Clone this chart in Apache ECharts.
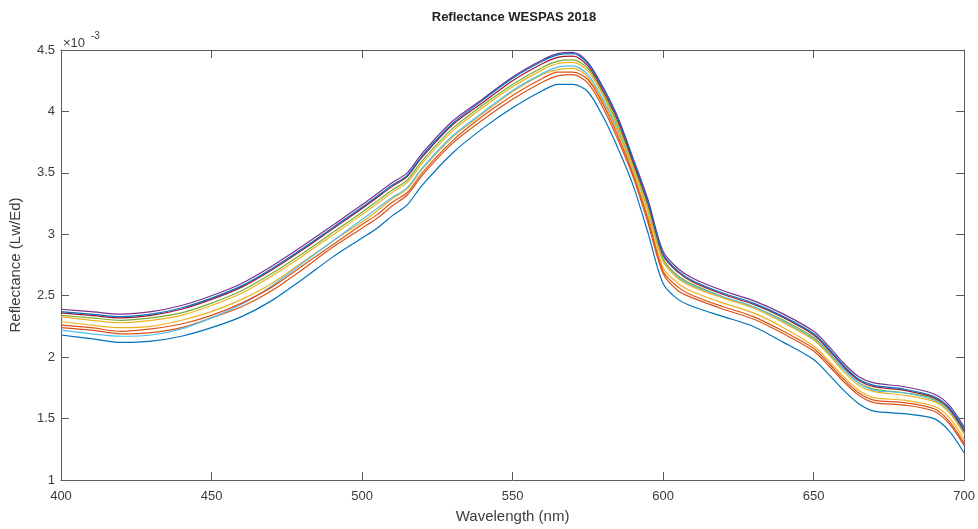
<!DOCTYPE html>
<html>
<head>
<meta charset="utf-8">
<script src="https://cdn.jsdelivr.net/npm/echarts@6.0.0/dist/echarts.min.js"></script>
<style>
  html, body { margin: 0; padding: 0; background: #ffffff; }
  #chart { width: 978px; height: 529px; }
</style>
</head>
<body>
<div id="chart"></div>
<script>
// Reflectance spectra, WESPAS 2018.
// Values are in units of 1e-3 (the axis carries the x10^-3 multiplier).
const wavelengths = [400, 410, 420, 430, 440, 450, 460, 470, 480, 490,
                     500, 505, 510, 515, 520, 530, 540, 550, 560, 565,
                     570, 575, 580, 585, 590, 595, 600, 605, 610, 620,
                     630, 640, 650, 655, 660, 665, 670, 680, 690, 695, 700];

// MATLAB plot order (colour cycle repeats after 7 lines)
const s01 = [2.18, 2.15, 2.12, 2.13, 2.17, 2.24, 2.33, 2.46, 2.63, 2.81,
             2.97, 3.05, 3.15, 3.24, 3.40, 3.66, 3.86, 4.03, 4.17, 4.22,
             4.22, 4.16, 3.96, 3.70, 3.40, 3.01, 2.60, 2.47, 2.41, 2.33,
             2.25, 2.12, 1.98, 1.86, 1.73, 1.62, 1.56, 1.54, 1.50, 1.40, 1.22];
const s02 = [2.24, 2.22, 2.19, 2.20, 2.24, 2.32, 2.41, 2.54, 2.71, 2.89,
             3.05, 3.13, 3.23, 3.32, 3.48, 3.74, 3.93, 4.10, 4.24, 4.29,
             4.30, 4.23, 4.03, 3.77, 3.47, 3.09, 2.68, 2.54, 2.48, 2.39,
             2.31, 2.19, 2.05, 1.93, 1.80, 1.69, 1.63, 1.61, 1.56, 1.46, 1.28];
const s03 = [2.29, 2.26, 2.24, 2.25, 2.30, 2.37, 2.47, 2.60, 2.77, 2.94,
             3.10, 3.19, 3.29, 3.37, 3.53, 3.79, 3.98, 4.16, 4.30, 4.34,
             4.35, 4.28, 4.08, 3.83, 3.51, 3.15, 2.73, 2.60, 2.53, 2.44,
             2.36, 2.24, 2.09, 1.97, 1.84, 1.73, 1.67, 1.65, 1.60, 1.51, 1.33];
const s04 = [2.39, 2.37, 2.35, 2.37, 2.42, 2.50, 2.60, 2.74, 2.90, 3.07,
             3.24, 3.33, 3.42, 3.50, 3.66, 3.92, 4.10, 4.28, 4.42, 4.47,
             4.48, 4.40, 4.20, 3.95, 3.62, 3.28, 2.86, 2.72, 2.64, 2.54,
             2.46, 2.35, 2.21, 2.09, 1.95, 1.84, 1.79, 1.76, 1.70, 1.61, 1.43];
const s05 = [2.34, 2.32, 2.30, 2.32, 2.36, 2.44, 2.54, 2.68, 2.84, 3.01,
             3.18, 3.27, 3.36, 3.44, 3.60, 3.86, 4.05, 4.22, 4.36, 4.41,
             4.42, 4.35, 4.15, 3.89, 3.57, 3.22, 2.80, 2.66, 2.59, 2.49,
             2.41, 2.30, 2.16, 2.04, 1.90, 1.79, 1.74, 1.71, 1.66, 1.56, 1.38];
const s06 = [2.22, 2.19, 2.17, 2.18, 2.23, 2.32, 2.43, 2.58, 2.76, 2.94,
             3.12, 3.21, 3.30, 3.38, 3.54, 3.80, 3.99, 4.17, 4.31, 4.36,
             4.37, 4.30, 4.10, 3.85, 3.54, 3.19, 2.78, 2.65, 2.58, 2.49,
             2.41, 2.29, 2.15, 2.03, 1.90, 1.79, 1.73, 1.71, 1.65, 1.56, 1.38];
const s07 = [2.36, 2.34, 2.32, 2.34, 2.39, 2.47, 2.57, 2.71, 2.87, 3.04,
             3.21, 3.30, 3.39, 3.47, 3.63, 3.89, 4.07, 4.25, 4.39, 4.44,
             4.45, 4.37, 4.17, 3.92, 3.59, 3.25, 2.83, 2.69, 2.61, 2.51,
             2.43, 2.32, 2.18, 2.06, 1.92, 1.81, 1.76, 1.73, 1.67, 1.58, 1.40];
const s08 = [2.37, 2.35, 2.33, 2.35, 2.40, 2.48, 2.58, 2.72, 2.88, 3.05,
             3.22, 3.31, 3.40, 3.48, 3.64, 3.90, 4.09, 4.27, 4.41, 4.46,
             4.47, 4.39, 4.19, 3.94, 3.61, 3.26, 2.84, 2.70, 2.62, 2.52,
             2.44, 2.33, 2.19, 2.07, 1.93, 1.82, 1.77, 1.74, 1.68, 1.59, 1.41];
const s09 = [2.26, 2.24, 2.21, 2.23, 2.27, 2.34, 2.44, 2.57, 2.74, 2.91,
             3.08, 3.16, 3.26, 3.34, 3.50, 3.76, 3.96, 4.13, 4.27, 4.32,
             4.32, 4.26, 4.06, 3.80, 3.49, 3.12, 2.70, 2.57, 2.50, 2.41,
             2.33, 2.21, 2.07, 1.95, 1.82, 1.71, 1.65, 1.63, 1.58, 1.48, 1.30];
const s10 = [2.33, 2.30, 2.28, 2.30, 2.34, 2.42, 2.52, 2.66, 2.82, 2.99,
             3.16, 3.25, 3.34, 3.42, 3.58, 3.84, 4.03, 4.20, 4.34, 4.39,
             4.40, 4.33, 4.13, 3.87, 3.55, 3.20, 2.78, 2.64, 2.57, 2.48,
             2.40, 2.28, 2.14, 2.02, 1.88, 1.77, 1.72, 1.69, 1.64, 1.55, 1.37];

const spectra = [s01, s02, s03, s04, s05, s06, s07, s08, s09, s10];
const xTicks = [400, 450, 500, 550, 600, 650, 700];
const yTicks = [1, 1.5, 2, 2.5, 3, 3.5, 4, 4.5];

// MATLAB default colour order
const COLORS = ['#0072BD', '#D95319', '#EDB120', '#7E2F8E', '#77AC30', '#4DBEEE', '#A2142F'];
const AXIS = '#5a5a5a';
const TEXT = '#3c3c3c';
const FONT = 'Liberation Sans';

const chart = echarts.init(document.getElementById('chart'));

const frameAxis = (pos, ticks, showLabel) => ({
    type: 'value',
    position: pos,
    min: ticks[0],
    max: ticks[ticks.length - 1],
    interval: ticks[1] - ticks[0],
    axisLine: { show: true, onZero: false, lineStyle: { color: AXIS, width: 1 } },
    axisTick: { show: true, inside: true, length: 8, lineStyle: { color: AXIS, width: 1 } },
    axisLabel: { show: showLabel, color: TEXT, fontSize: 13, fontFamily: FONT },
    splitLine: { show: false }
});

const xBottom = frameAxis('bottom', xTicks, true);
xBottom.axisLabel.margin = 10;
xBottom.name = 'Wavelength (nm)';
xBottom.nameLocation = 'middle';
xBottom.nameGap = 29;
xBottom.nameTextStyle = { color: TEXT, fontSize: 15, fontFamily: FONT };

const yLeft = frameAxis('left', yTicks, true);
yLeft.axisLabel.margin = 6;
yLeft.axisLabel.formatter = (v) => String(v);
yLeft.name = 'Reflectance (Lw/Ed)';
yLeft.nameLocation = 'middle';
yLeft.nameGap = 38;
yLeft.nameTextStyle = { color: TEXT, fontSize: 15, fontFamily: FONT };

chart.setOption({
    animation: false,
    backgroundColor: '#ffffff',
    grid: { left: 61, right: 11, top: 50, bottom: 47 },
    xAxis: [xBottom, frameAxis('top', xTicks, false)],
    yAxis: [yLeft, frameAxis('right', yTicks, false)],
    graphic: [
        {
            type: 'text', x: 514, y: 17,
            style: { text: 'Reflectance WESPAS 2018', font: 'bold 13px ' + FONT, fill: '#222',
                     textAlign: 'center', textVerticalAlign: 'middle' }
        },
        {
            type: 'text', x: 63, y: 43,
            style: { text: '\u00d710', font: '13px ' + FONT, fill: TEXT,
                     textAlign: 'left', textVerticalAlign: 'middle' }
        },
        {
            type: 'text', x: 91, y: 36,
            style: { text: '-3', font: '10px ' + FONT, fill: TEXT,
                     textAlign: 'left', textVerticalAlign: 'middle' }
        }
    ],
    series: spectra.map((s, k) => ({
        type: 'line',
        xAxisIndex: 0,
        yAxisIndex: 0,
        data: wavelengths.map((w, i) => [w, s[i]]),
        showSymbol: false,
        smooth: 0.3,
        lineStyle: { color: COLORS[k % COLORS.length], width: 1.2 },
        emphasis: { disabled: true },
        silent: true
    }))
});
</script>
</body>
</html>
